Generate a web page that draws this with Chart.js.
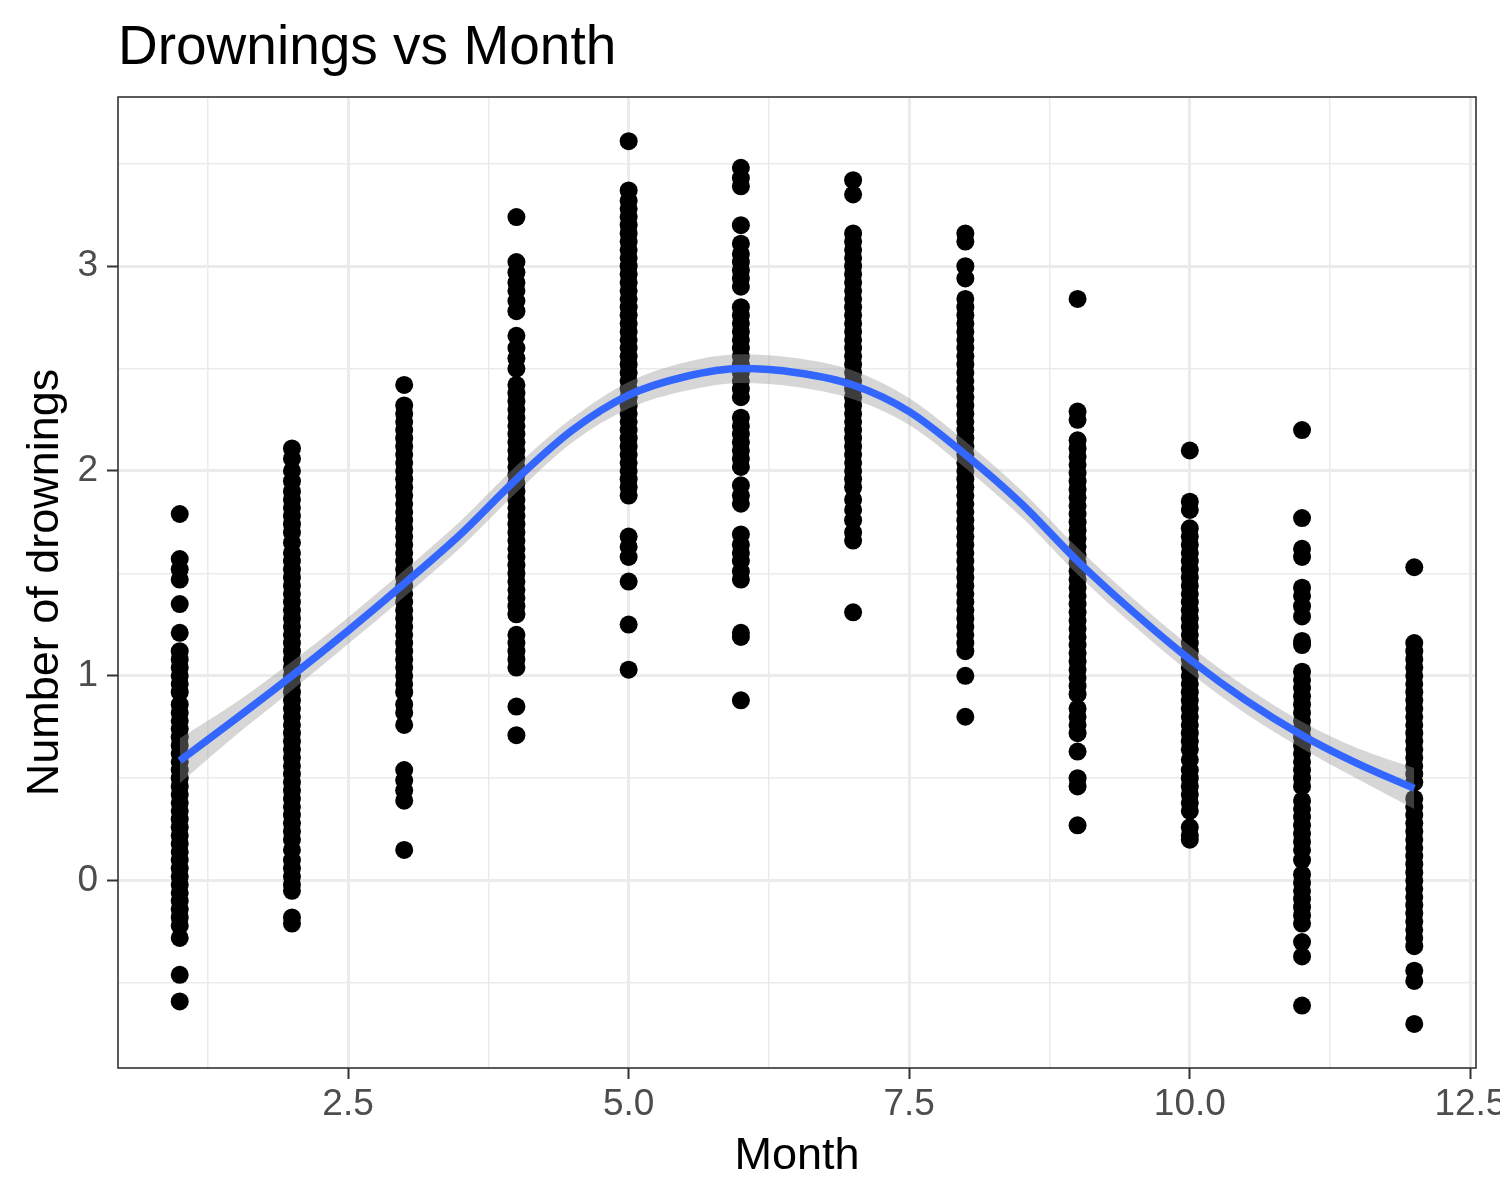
<!DOCTYPE html>
<html>
<head>
<meta charset="utf-8">
<script src="https://cdn.jsdelivr.net/npm/chart.js@4"></script>
<style>
  body { margin: 0; background: #fff; }
</style>
</head>
<body>
<canvas id="myChart" width="1500" height="1200"></canvas>
<script>
// drownings, one list per month
const month1 = [1.79, 1.57, 1.52, 1.47, 1.35, 1.21, 1.12, 1.08, 1.04, 1.0, 0.96, 0.92, 0.86, 0.82, 0.78, 0.74, 0.7, 0.66, 0.62, 0.58, 0.54, 0.5, 0.46, 0.42, 0.38, 0.34, 0.3, 0.26, 0.22, 0.18, 0.14, 0.1, 0.06, 0.02, -0.02, -0.06, -0.1, -0.14, -0.18, -0.22, -0.28, -0.46, -0.59];
const month2 = [2.11, 2.06, 2.0, 1.95, 1.9, 1.86, 1.82, 1.78, 1.74, 1.7, 1.65, 1.6, 1.56, 1.52, 1.48, 1.44, 1.4, 1.36, 1.32, 1.28, 1.24, 1.2, 1.16, 1.12, 1.08, 1.04, 1.0, 0.96, 0.92, 0.88, 0.84, 0.8, 0.76, 0.72, 0.68, 0.64, 0.6, 0.56, 0.52, 0.48, 0.44, 0.4, 0.36, 0.32, 0.28, 0.24, 0.2, 0.15, 0.1, 0.06, 0.02, -0.02, -0.05, -0.18, -0.21];
const month3 = [2.42, 2.32, 2.28, 2.24, 2.2, 2.16, 2.12, 2.08, 2.04, 2.0, 1.96, 1.92, 1.88, 1.84, 1.8, 1.76, 1.72, 1.68, 1.64, 1.6, 1.56, 1.52, 1.48, 1.44, 1.4, 1.36, 1.32, 1.28, 1.24, 1.2, 1.16, 1.12, 1.08, 1.04, 1.0, 0.96, 0.92, 0.86, 0.82, 0.76, 0.54, 0.49, 0.44, 0.39, 0.15];
const month4 = [3.24, 3.02, 2.97, 2.92, 2.88, 2.83, 2.78, 2.66, 2.6, 2.55, 2.5, 2.42, 2.38, 2.34, 2.3, 2.26, 2.22, 2.18, 2.14, 2.1, 2.06, 2.02, 1.98, 1.94, 1.9, 1.86, 1.82, 1.78, 1.74, 1.7, 1.66, 1.62, 1.58, 1.54, 1.5, 1.46, 1.42, 1.38, 1.34, 1.3, 1.2, 1.16, 1.12, 1.08, 1.04, 0.85, 0.71];
const month5 = [3.61, 3.37, 3.32, 3.28, 3.24, 3.2, 3.16, 3.12, 3.08, 3.04, 3.0, 2.96, 2.92, 2.88, 2.84, 2.8, 2.76, 2.72, 2.68, 2.64, 2.6, 2.56, 2.52, 2.48, 2.44, 2.4, 2.36, 2.32, 2.28, 2.24, 2.2, 2.16, 2.12, 2.08, 2.04, 2.0, 1.96, 1.92, 1.88, 1.68, 1.63, 1.58, 1.46, 1.25, 1.03];
const month6 = [3.48, 3.43, 3.39, 3.2, 3.11, 3.06, 3.02, 2.98, 2.94, 2.9, 2.8, 2.76, 2.72, 2.68, 2.64, 2.6, 2.56, 2.52, 2.48, 2.44, 2.4, 2.36, 2.26, 2.22, 2.18, 2.14, 2.1, 2.06, 2.02, 1.93, 1.88, 1.84, 1.69, 1.64, 1.6, 1.56, 1.51, 1.47, 1.21, 1.19, 0.88];
const month7 = [3.42, 3.35, 3.16, 3.12, 3.08, 3.04, 3.0, 2.96, 2.92, 2.88, 2.84, 2.8, 2.76, 2.72, 2.68, 2.64, 2.6, 2.56, 2.52, 2.48, 2.44, 2.4, 2.36, 2.32, 2.28, 2.24, 2.2, 2.16, 2.12, 2.08, 2.04, 2.0, 1.96, 1.92, 1.86, 1.81, 1.76, 1.7, 1.66, 1.31];
const month8 = [3.16, 3.12, 3.0, 2.94, 2.84, 2.8, 2.76, 2.72, 2.68, 2.64, 2.6, 2.56, 2.52, 2.48, 2.44, 2.4, 2.36, 2.32, 2.28, 2.24, 2.2, 2.16, 2.12, 2.08, 2.04, 2.0, 1.96, 1.92, 1.88, 1.84, 1.8, 1.76, 1.72, 1.68, 1.64, 1.6, 1.56, 1.52, 1.48, 1.44, 1.4, 1.36, 1.32, 1.28, 1.24, 1.2, 1.16, 1.12, 1.0, 0.8];
const month9 = [2.84, 2.29, 2.25, 2.15, 2.11, 2.07, 2.03, 1.99, 1.95, 1.91, 1.87, 1.83, 1.79, 1.75, 1.71, 1.67, 1.63, 1.59, 1.55, 1.51, 1.47, 1.43, 1.39, 1.35, 1.31, 1.27, 1.23, 1.19, 1.15, 1.11, 1.07, 1.03, 0.99, 0.95, 0.91, 0.84, 0.8, 0.76, 0.72, 0.63, 0.5, 0.46, 0.27];
const month10 = [2.1, 1.85, 1.81, 1.72, 1.68, 1.64, 1.6, 1.56, 1.52, 1.48, 1.44, 1.4, 1.36, 1.32, 1.28, 1.24, 1.2, 1.16, 1.12, 1.08, 1.04, 1.0, 0.96, 0.92, 0.88, 0.84, 0.8, 0.76, 0.72, 0.68, 0.64, 0.59, 0.54, 0.5, 0.46, 0.42, 0.38, 0.34, 0.26, 0.22, 0.2];
const month11 = [2.2, 1.77, 1.62, 1.58, 1.43, 1.39, 1.34, 1.29, 1.17, 1.15, 1.02, 0.98, 0.94, 0.9, 0.86, 0.82, 0.78, 0.74, 0.7, 0.66, 0.62, 0.58, 0.54, 0.5, 0.46, 0.39, 0.35, 0.31, 0.27, 0.23, 0.19, 0.15, 0.1, 0.03, -0.01, -0.05, -0.09, -0.13, -0.17, -0.21, -0.3, -0.37, -0.61];
const month12 = [1.53, 1.16, 1.12, 1.08, 1.04, 1.0, 0.96, 0.92, 0.88, 0.84, 0.8, 0.76, 0.72, 0.68, 0.64, 0.6, 0.56, 0.52, 0.48, 0.4, 0.36, 0.32, 0.28, 0.24, 0.2, 0.16, 0.12, 0.08, 0.04, 0.0, -0.04, -0.08, -0.12, -0.16, -0.2, -0.24, -0.28, -0.32, -0.44, -0.49, -0.7];

const months = [1, 2, 3, 4, 5, 6, 7, 8, 9, 10, 11, 12];
const monthValues = [month1, month2, month3, month4, month5, month6, month7, month8, month9, month10, month11, month12];

// loess curve and its band, read at half months
const smoothX = [1, 1.5, 2, 2.5, 3, 3.5, 4, 4.5, 5, 5.5, 6, 6.5, 7, 7.5, 8, 8.5, 9, 9.5, 10, 10.5, 11, 11.5, 12];
const smoothY = [0.585, 0.79, 1.0, 1.22, 1.45, 1.69, 1.96, 2.2, 2.37, 2.46, 2.5, 2.48, 2.42, 2.29, 2.08, 1.84, 1.56, 1.31, 1.08, 0.88, 0.71, 0.57, 0.45];
const smoothLow = [0.475, 0.71, 0.93, 1.155, 1.385, 1.625, 1.895, 2.14, 2.305, 2.39, 2.43, 2.41, 2.35, 2.225, 2.015, 1.775, 1.495, 1.245, 1.015, 0.815, 0.645, 0.495, 0.35];
const smoothHigh = [0.695, 0.87, 1.07, 1.285, 1.515, 1.755, 2.025, 2.26, 2.435, 2.53, 2.57, 2.55, 2.49, 2.355, 2.145, 1.905, 1.625, 1.375, 1.145, 0.945, 0.775, 0.645, 0.55];

// ticks: majors are labelled, the rest are minor grid lines
const xTicks = [1.25, 2.5, 3.75, 5, 6.25, 7.5, 8.75, 10, 11.25, 12.5];
const yTicks = [-0.5, 0, 0.5, 1, 1.5, 2, 2.5, 3, 3.5];

const fontFamily = '"Liberation Sans", Arial, sans-serif';

// points
const points = [];
months.forEach((m, i) => {
  monthValues[i].forEach((v) => points.push({ x: m, y: v }));
});

const xy = (ys) => smoothX.map((x, i) => ({ x: x, y: ys[i] }));

function isMajorX(v) {
  return Math.abs(v / 2.5 - Math.round(v / 2.5)) < 1e-6;
}
function isMajorY(v) {
  return Math.abs(v - Math.round(v)) < 1e-6;
}

// title, axis titles and panel border
const frame = {
  id: "frame",
  afterDraw(chart) {
    const { ctx, chartArea: a } = chart;
    ctx.save();
    ctx.strokeStyle = "#333333";
    ctx.lineWidth = 1.6;
    ctx.strokeRect(a.left, a.top, a.right - a.left, a.bottom - a.top);

    ctx.fillStyle = "#000";
    ctx.textBaseline = "alphabetic";
    ctx.font = "55px " + fontFamily;
    ctx.textAlign = "left";
    ctx.fillText("Drownings vs Month", a.left, 64);

    ctx.font = "45px " + fontFamily;
    ctx.textAlign = "center";
    ctx.fillText("Month", (a.left + a.right) / 2, 1169);

    ctx.translate(58, (a.top + a.bottom) / 2);
    ctx.rotate(-Math.PI / 2);
    ctx.fillText("Number of drownings", 0, 0);
    ctx.restore();
  },
};

new Chart(document.getElementById("myChart"), {
  type: "scatter",
  data: {
    datasets: [
      {
        type: "line",
        data: xy(smoothY),
        borderColor: "#3366FF",
        borderWidth: 7.5,
        pointRadius: 0,
        cubicInterpolationMode: "monotone",
        fill: false,
        order: 0,
      },
      {
        type: "line",
        data: xy(smoothLow),
        borderWidth: 0,
        pointRadius: 0,
        cubicInterpolationMode: "monotone",
        fill: false,
        order: 1,
      },
      {
        type: "line",
        data: xy(smoothHigh),
        borderWidth: 0,
        pointRadius: 0,
        cubicInterpolationMode: "monotone",
        backgroundColor: "rgba(153,153,153,0.4)",
        fill: "-1",
        order: 1,
      },
      {
        data: points,
        backgroundColor: "#000",
        borderWidth: 0,
        pointRadius: 9,
        order: 3,
      },
    ],
  },
  options: {
    responsive: false,
    animation: false,
    devicePixelRatio: 1,
    layout: { padding: { top: 97, right: 24, bottom: 0, left: 0 } },
    plugins: {
      legend: { display: false },
      tooltip: { enabled: false },
    },
    scales: {
      x: {
        type: "linear",
        min: 0.45,
        max: 12.55,
        afterBuildTicks: (s) => {
          s.ticks = xTicks.map((v) => ({ value: v }));
        },
        afterFit: (s) => {
          s.height = 132;
          s.paddingLeft = 0;
          s.paddingRight = 0;
        },
        border: { display: false },
        grid: {
          color: "#ebebeb",
          lineWidth: (c) => (isMajorX(c.tick.value) ? 3 : 1.5),
          tickColor: (c) => (isMajorX(c.tick.value) ? "#333333" : "rgba(0,0,0,0)"),
          tickLength: 11,
          tickWidth: 2,
        },
        ticks: {
          autoSkip: false,
          maxRotation: 0,
          padding: 4,
          color: "#4d4d4d",
          font: { family: fontFamily, size: 37 },
          callback: (v) => (isMajorX(v) ? v.toFixed(1) : ""),
        },
      },
      y: {
        min: -0.915,
        max: 3.826,
        afterBuildTicks: (s) => {
          s.ticks = yTicks.map((v) => ({ value: v }));
        },
        afterFit: (s) => {
          s.width = 118;
          s.paddingTop = 0;
          s.paddingBottom = 0;
        },
        border: { display: false },
        grid: {
          color: "#ebebeb",
          lineWidth: (c) => (isMajorY(c.tick.value) ? 3 : 1.5),
          tickColor: (c) => (isMajorY(c.tick.value) ? "#333333" : "rgba(0,0,0,0)"),
          tickLength: 11,
          tickWidth: 2,
        },
        ticks: {
          autoSkip: false,
          padding: 9,
          color: "#4d4d4d",
          font: { family: fontFamily, size: 37 },
          callback: (v) => (isMajorY(v) ? String(Math.round(v)) : ""),
        },
      },
    },
  },
  plugins: [frame],
});
</script>
</body>
</html>
